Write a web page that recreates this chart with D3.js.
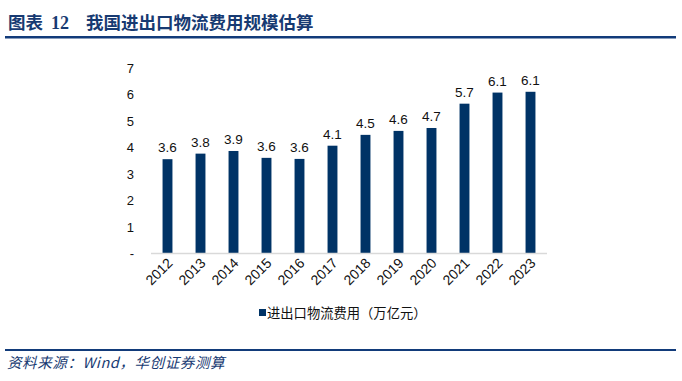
<!DOCTYPE html>
<html><head><meta charset="utf-8">
<script src="https://cdn.jsdelivr.net/npm/d3@7"></script>
<style>body{margin:0;background:#fff;}svg{display:block;}</style>
</head><body>
<svg id="c" width="682" height="381"></svg>
<script>
const years = ["2012","2013","2014","2015","2016","2017","2018","2019","2020","2021","2022","2023"];
const values = [3.55,3.76,3.86,3.6,3.56,4.06,4.47,4.62,4.73,5.65,6.07,6.1];
const labels = ["3.6","3.8","3.9","3.6","3.6","4.1","4.5","4.6","4.7","5.7","6.1","6.1"];
const yTicks = [0,1,2,3,4,5,6,7];
const seriesName = "进出口物流费用（万亿元）";
const titleParts = ["图表", "12", "我国进出口物流费用规模估算"];
const sourceText = "资料来源：Wind，华创证券测算";

const svg = d3.select("#c");
const navy = "#003366";
const font = "'Liberation Sans', Arial, sans-serif";

// Title
const t = svg.append("text").attr("y",29).attr("fill","#173a72")
  .attr("font-weight","bold").attr("font-size",17.5);
t.append("tspan").attr("x",8).attr("font-family","'Noto Sans CJK SC', serif").text(titleParts[0]);
t.append("tspan").attr("x",51).attr("font-family","'Liberation Serif', serif").attr("font-size",18).text(titleParts[1]);
t.append("tspan").attr("x",86).attr("font-family","'Noto Sans CJK SC', serif").text(titleParts[2]);
svg.append("rect").attr("x",5).attr("y",36).attr("width",671).attr("height",2.5).attr("fill","#123b7a");

const x = d3.scaleBand().domain(years).range([151,547]).paddingInner(0.7).paddingOuter(0.35);
const y = d3.scaleLinear().domain([0,7]).range([253,68]);

// y axis labels
svg.append("g").selectAll("text").data(yTicks).join("text")
  .attr("x",134).attr("y",d=>y(d)+5).attr("text-anchor","end")
  .attr("font-family",font).attr("font-size",13).attr("fill","#111")
  .text(d=>d===0?"-":d);

// bars
svg.append("g").selectAll("rect").data(values).join("rect")
  .attr("x",(d,i)=>x(years[i])).attr("width",x.bandwidth())
  .attr("y",d=>y(d)).attr("height",d=>y(0)-y(d)).attr("fill",navy);

// axis line
svg.append("line").attr("x1",151).attr("x2",547).attr("y1",253.5).attr("y2",253.5)
  .attr("stroke","#d9d9d9").attr("stroke-width",1.5);

// value labels
svg.append("g").selectAll("text").data(values).join("text")
  .attr("x",(d,i)=>x(years[i])+x.bandwidth()/2).attr("y",d=>y(d)-7)
  .attr("text-anchor","middle").attr("font-family",font).attr("font-size",13.5).attr("fill","#111")
  .text((d,i)=>labels[i]);

// x labels
svg.append("g").selectAll("text").data(years).join("text")
  .attr("transform",d=>`translate(${x(d)+x.bandwidth()/2+6},${264}) rotate(-45)`)
  .attr("text-anchor","end").attr("font-family",font).attr("font-size",14).attr("fill","#111")
  .text(d=>d);

// legend
svg.append("rect").attr("x",259).attr("y",309).attr("width",7).attr("height",7).attr("fill",navy);
svg.append("text").attr("x",267).attr("y",318).attr("font-family","'Noto Sans CJK SC', sans-serif")
  .attr("font-size",13.3).attr("fill","#111").text(seriesName);

// footer
svg.append("rect").attr("x",5).attr("y",349).attr("width",671).attr("height",2).attr("fill","#123b7a");
svg.append("text").attr("x",7).attr("y",368).attr("fill","#173a72")
  .attr("font-family","'Noto Sans CJK SC', serif").attr("font-style","italic").attr("font-size",14.5)
  .attr("letter-spacing",0.6)
  .text(sourceText);
</script>
</body></html>
